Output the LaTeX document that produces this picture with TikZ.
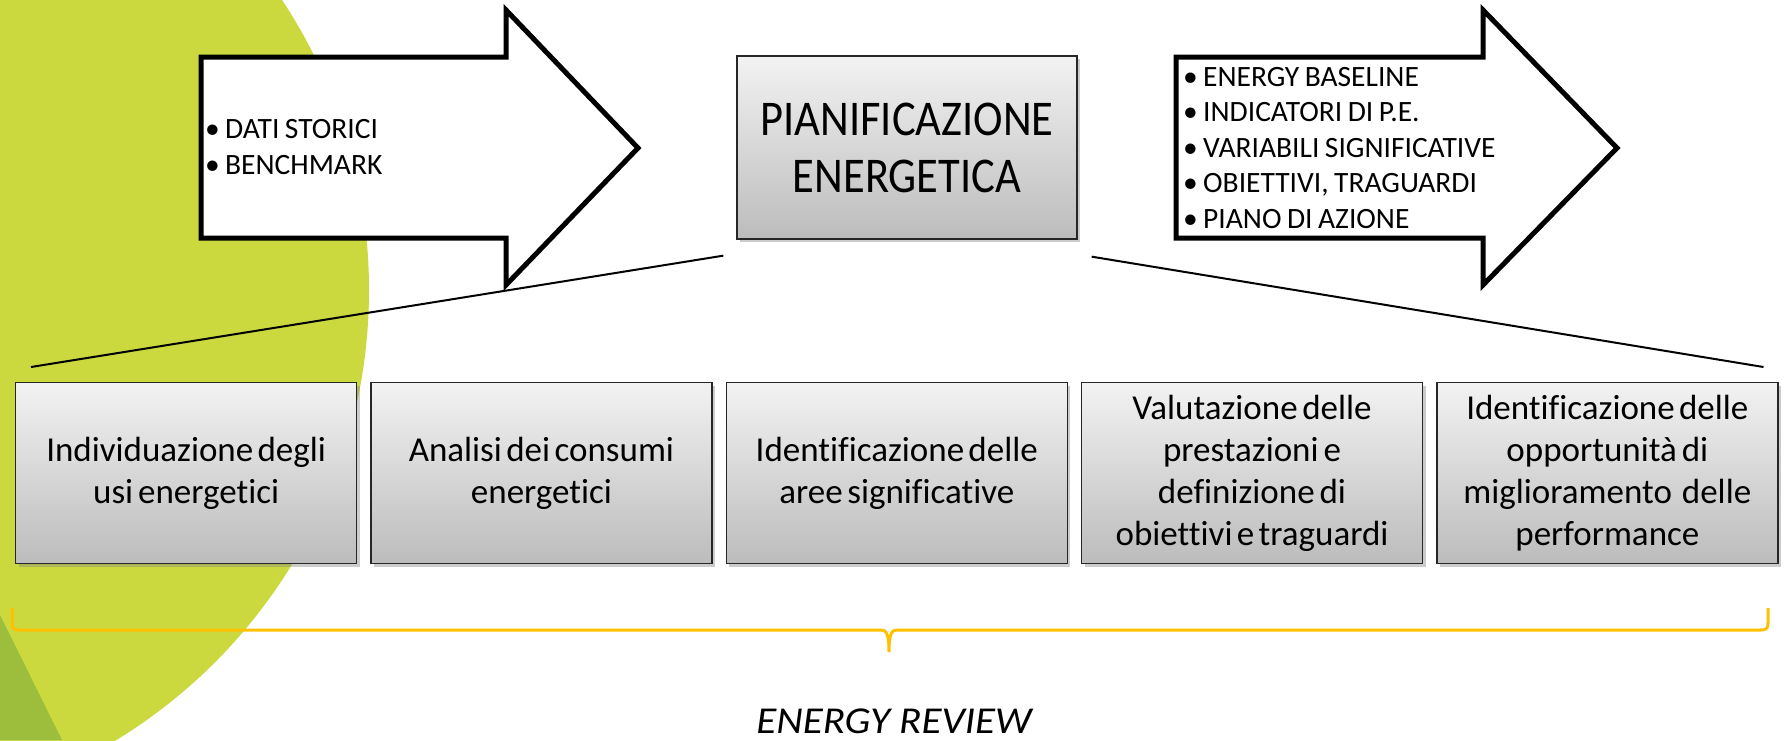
\documentclass[tikz,border=0pt]{standalone}
\usepackage{fontspec}
\setmainfont{Carlito}
\newfontfamily\boxfont{Carlito}[Ligatures=CommonOff]
\newfontfamily\planfont{Carlito}[FakeStretch=0.89]
\newfontfamily\reviewfont{Carlito}[FakeStretch=1.08]
\usetikzlibrary{positioning,shadows}
\definecolor{leaf}{RGB}{203,217,63}
\definecolor{leafdark}{RGB}{156,190,60}
\definecolor{boxtop}{RGB}{242,242,242}
\definecolor{boxbot}{RGB}{188,188,188}
\definecolor{braceyellow}{RGB}{255,192,0}
\tikzstyle{bigarrow} = [draw=black, fill=white, line width=5pt]
\tikzstyle{bullets} = [align=left, inner sep=0pt, anchor=west, font=\fontsize{29.5}{35.5}\selectfont, execute at begin node={\spaceskip 5.5pt plus 1pt minus 1pt\relax}]
\tikzstyle{shadedbox} = [draw=black!85, line width=1.3pt, top color=boxtop, bottom color=boxbot, drop shadow={shadow xshift=3pt,shadow yshift=-3pt,opacity=0.4}]
\tikzstyle{planbox} = [shadedbox, minimum width=340pt, minimum height=183pt, align=center, font=\planfont\fontsize{50}{57}\selectfont]
\tikzstyle{phase} = [shadedbox, minimum width=341pt, minimum height=181pt, text width=325pt, align=center, inner sep=0pt, font=\boxfont\fontsize{35}{42}\selectfont, execute at begin node={\spaceskip 4pt plus 1pt minus 1pt\relax}]
\tikzstyle{zoomline} = [draw=black, line width=2pt]
\tikzstyle{revbrace} = [draw=braceyellow, line width=3pt]
\tikzstyle{review} = [inner sep=0pt, font=\reviewfont\itshape\fontsize{38}{44}\selectfont]
\newcommand{\itm}{\makebox[20pt][l]{•}}

\begin{document}
\begin{tikzpicture}[x=1pt,y=-1pt]
	\useasboundingbox (0,0) rectangle (1785,740);

	% green leaf in the background
	\begin{scope}
		\clip (0,0) rectangle (1785,740);
		\fill[leaf] (-158,290) circle[radius=527pt];
		\fill[leafdark] (0,615) -- (62,740) -- (0,740) -- cycle;
	\end{scope}

	% the two big arrows
	\draw[bigarrow] (201,57) -- (506,57) -- (506,10) -- (638,148) -- (506,285) -- (506,238) -- (201,238) -- cycle;
	\draw[bigarrow] (1176,57) -- (1483,57) -- (1483,10) -- (1617,148) -- (1483,285) -- (1483,238) -- (1176,238) -- cycle;
	\node[bullets] (hist) at (205,147) {\itm DATI STORICI\\\itm BENCHMARK};
	\node[bullets] (res) at (1183,148) {\itm ENERGY BASELINE\\\itm INDICATORI DI P.E.\\\itm VARIABILI SIGNIFICATIVE\\\itm OBIETTIVI, TRAGUARDI\\\itm PIANO DI AZIONE};

	% planning box and the five phases of the review
	\node[planbox] (plan) at (907,147.5) {PIANIFICAZIONE\\ENERGETICA};
	\node[phase,anchor=north west] (ind) at (15,382) {Individuazione degli\\usi energetici};
	\node[phase,right=13pt of ind] (ana) {Analisi dei consumi\\energetici};
	\node[phase,right=13pt of ana] (aree) {Identificazione delle\\aree significative};
	\node[phase,right=13pt of aree] (val) {Valutazione delle\\prestazioni e\\definizione di\\obiettivi e traguardi};
	\node[phase,right=13pt of val] (opp) {Identificazione delle\\opportunità di\\miglioramento\hspace{10pt}delle\\performance};

	% lines opening from the plan to the phases
	\draw[zoomline] ([xshift=-13pt,yshift=-16pt]plan.south west) -- ([xshift=16pt,yshift=15pt]ind.north west);
	\draw[zoomline] ([xshift=14pt,yshift=-17pt]plan.south east) -- ([xshift=-15pt,yshift=15pt]opp.north east);

	% brace under the phases
	\draw[revbrace] (12,608) -- (12,623) .. controls (12,629) and (14,630) .. (20,630) -- (881,630)
		.. controls (886,630) and (889,633) .. (889,652) .. controls (889,633) and (892,630) .. (897,630)
		-- (1760,630) .. controls (1766,630) and (1768,629) .. (1768,623) -- (1768,608);
	\node[review] (rev) at (894,721) {ENERGY REVIEW};

\end{tikzpicture}
\end{document}
